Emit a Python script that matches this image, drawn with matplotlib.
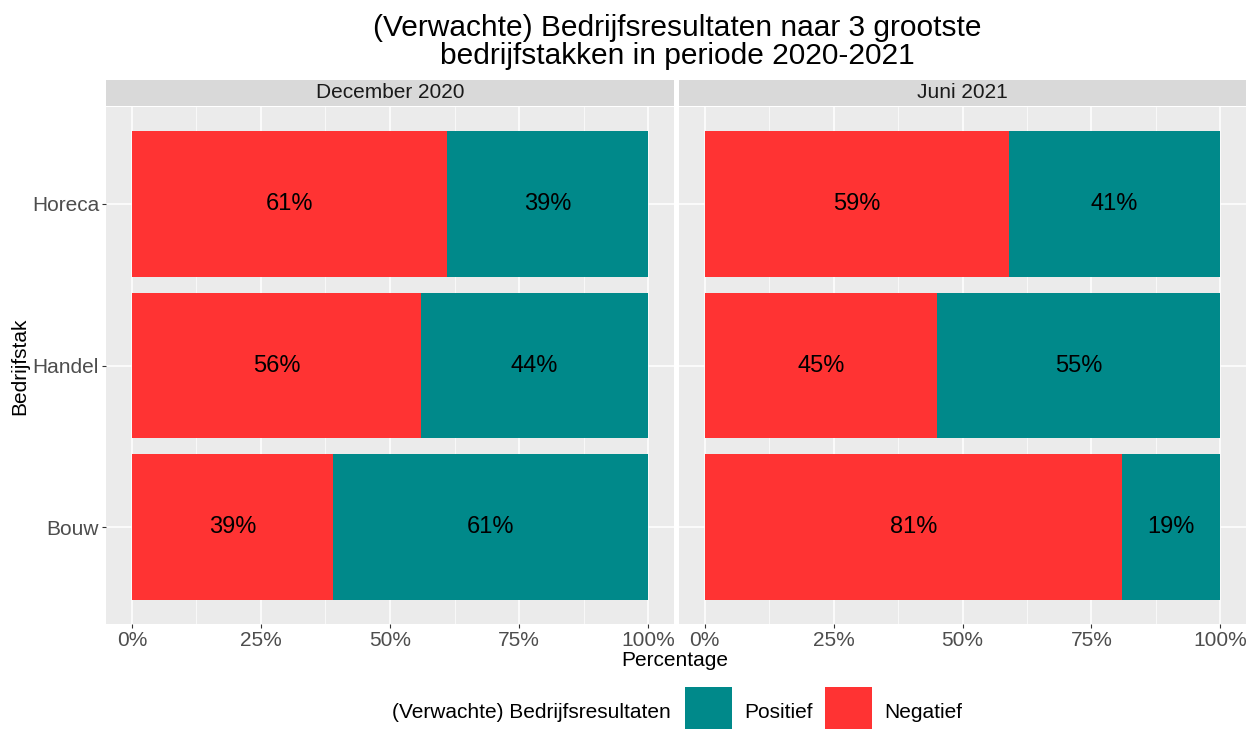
import matplotlib.pyplot as plt
from matplotlib.patches import Rectangle
from matplotlib.ticker import FixedLocator, FuncFormatter

plt.rcParams['font.family'] = ['Liberation Sans', 'DejaVu Sans']

# ------------------------------------------
# Data
# ------------------------------------------
sectors = ['Bouw', 'Handel', 'Horeca']          # bottom -> top
periods = ['December 2020', 'Juni 2021']
negatief = {'December 2020': [39, 56, 61], 'Juni 2021': [81, 45, 59]}
positief = {'December 2020': [61, 44, 39], 'Juni 2021': [19, 55, 41]}
legend_labels = ['Positief', 'Negatief']

col_pos = '#00898A'
col_neg = '#FF3333'
bg = '#EBEBEB'
strip_bg = '#D9D9D9'

fig = plt.figure(figsize=(12.48, 7.29), dpi=100)
W, H = 1248, 729

def fx(px):
    return px / W

def fy(py):
    return 1 - py / H

panel_x = [(106, 674), (679, 1246)]
p_top, p_bot = 107, 624
s_top, s_bot = 80, 106

for i, period in enumerate(periods):
    x0, x1 = panel_x[i]
    ax = fig.add_axes([fx(x0), fy(p_bot), fx(x1 - x0), fy(p_top) - fy(p_bot)])
    ax.set_facecolor(bg)
    for s in ax.spines.values():
        s.set_visible(False)

    ypos = range(1, len(sectors) + 1)
    neg = [v / 100 for v in negatief[period]]
    pos = [v / 100 for v in positief[period]]
    ax.barh(ypos, neg, height=0.9, color=col_neg, zorder=2)
    ax.barh(ypos, pos, left=neg, height=0.9, color=col_pos, zorder=2)

    for y, n, p in zip(ypos, neg, pos):
        ax.text(n / 2, y, f'{round(n * 100)}%', ha='center', va='center',
                fontsize=17, color='black', zorder=3)
        ax.text(n + p / 2, y, f'{round(p * 100)}%', ha='center', va='center',
                fontsize=17, color='black', zorder=3)

    ax.set_xlim(-0.05, 1.05)
    ax.set_ylim(0.4, 3.6)
    ax.xaxis.set_major_locator(FixedLocator([0, 0.25, 0.5, 0.75, 1.0]))
    ax.xaxis.set_minor_locator(FixedLocator([0.125, 0.375, 0.625, 0.875]))
    ax.xaxis.set_major_formatter(FuncFormatter(lambda v, _: f'{v * 100:.0f}%'))
    ax.set_yticks(list(ypos))
    ax.grid(which='major', color='white', linewidth=1.1, zorder=0)
    ax.grid(which='minor', axis='x', color='white', linewidth=0.5, zorder=0)
    ax.set_axisbelow(True)
    ax.tick_params(axis='both', which='major', length=3, width=0.8,
                   color='#333333', labelsize=15, labelcolor='#4D4D4D', pad=2)
    ax.tick_params(which='minor', length=0)
    if i == 0:
        ax.set_yticklabels(sectors)
    else:
        ax.set_yticklabels([])
        ax.tick_params(axis='y', length=0)

    # facet strip
    sax = fig.add_axes([fx(x0), fy(s_bot), fx(x1 - x0), fy(s_top) - fy(s_bot)])
    sax.set_facecolor(strip_bg)
    sax.set_xticks([])
    sax.set_yticks([])
    for s in sax.spines.values():
        s.set_visible(False)
    sax.text(0.5, 0.5, period, ha='center', va='center', fontsize=15,
             color='#1A1A1A', transform=sax.transAxes)

# Title and axis labels
fig.text(fx(677), fy(42), '(Verwachte) Bedrijfsresultaten naar 3 grootste\nbedrijfstakken in periode 2020-2021',
         ha='center', va='center', fontsize=21.5, linespacing=1.03)
fig.text(fx(675), fy(661), 'Percentage', ha='center', va='center', fontsize=15)
fig.text(fx(20), fy(366), 'Bedrijfstak', ha='center', va='center', fontsize=15, rotation=90)

# Legend (bottom, horizontal)
fig.text(fx(671), fy(713), '(Verwachte) Bedrijfsresultaten', ha='right', va='center', fontsize=15)
key_x = [685, 825]
for kx, lab, c in zip(key_x, legend_labels, [col_pos, col_neg]):
    fig.patches.append(Rectangle((fx(kx), fy(735)), fx(47), fy(687) - fy(735),
                                 transform=fig.transFigure, facecolor=c,
                                 edgecolor='none', clip_on=False))
    fig.text(fx(kx + 59), fy(713), lab, ha='left', va='center', fontsize=15)

plt.savefig('out.png', dpi=100)
